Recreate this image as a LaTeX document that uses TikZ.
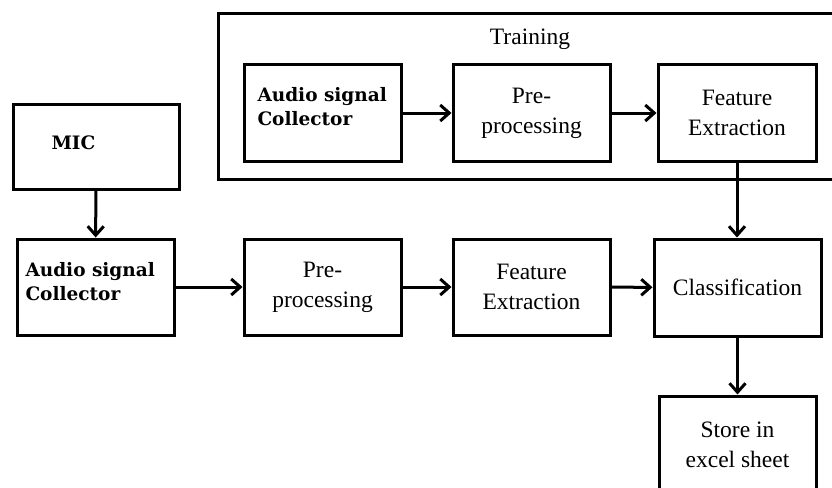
\documentclass[tikz,border=0pt]{standalone}
\usepackage{fontspec}
\setmainfont{Liberation Serif}
\newfontfamily\boldface{DejaVu Serif}
\usetikzlibrary{arrows.meta}

\begin{document}
\begin{tikzpicture}[
  x=1pt, y=-1pt,
  line width=3pt,
  font=\fontsize{23.5}{30}\selectfont,
  blk/.style={draw,minimum width=157pt,minimum height=96pt,align=center,inner sep=0pt},
  hd/.style={font=\boldface\bfseries\fontsize{18.5}{23.5}\selectfont,align=left,
    inner sep=0pt,anchor=north west},
  flow/.style={-{Straight Barb[length=9pt,width=16pt]}}]
\clip (0,0) rectangle (832,487);

% training frame, open on the right
\draw (845,14) rectangle (218,179);
\node[anchor=base] (train) at (530,45) {Training};

% training chain
\node[blk] (tcol) at (322.5,113) {};
\node[hd] (tcoltxt) at (256,86) {Audio signal\\Collector};
\node[blk] (tpre) at (531.5,113) {Pre-\\processing};
\node[blk,minimum width=158pt] (tfeat) at (737,113) {Feature\\Extraction};

% recognition chain
\node[blk,minimum width=166pt,minimum height=85pt] (mic) at (96,146.5) {};
\node[hd] (mictxt) at (50,134) {MIC};
\node[blk] (bcol) at (95.5,287) {};
\node[hd] (bcoltxt) at (24,261) {Audio signal\\Collector};
\node[blk] (bpre) at (322.5,287) {Pre-\\processing};
\node[blk] (bfeat) at (531.5,287) {Feature\\Extraction};
\node[blk,minimum width=167pt,minimum height=97pt] (cls) at (737.5,287.5) {Classification};
\node[blk,minimum height=98pt] (store) at (737.5,445) {Store in\\excel sheet};

\draw[flow] (tcol) -- (tpre);
\draw[flow] (tpre) -- (tfeat);
\draw[flow] (mic) -- (bcol);
\draw[flow] (bcol) -- (bpre);
\draw[flow] (bpre) -- (bfeat);
\draw[flow] (bfeat) -- (cls);
\draw[flow] (tfeat.south) -- (tfeat.south |- cls.north);
\draw[flow] (cls) -- (store);
\end{tikzpicture}
\end{document}
